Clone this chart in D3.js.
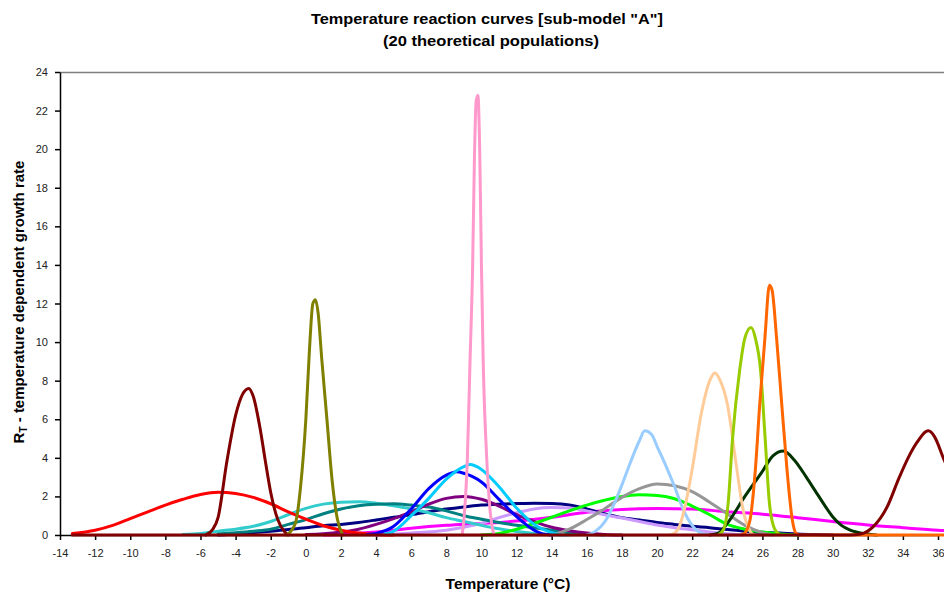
<!DOCTYPE html>
<html><head><meta charset="utf-8">
<script src="https://cdn.jsdelivr.net/npm/d3@7"></script>
<style>body{margin:0;background:#fff}svg{display:block;font-family:"Liberation Sans",Arial,sans-serif}</style>
</head><body><svg id="c" width="944" height="592"></svg>
<script>
const titleLines = ['Temperature reaction curves [sub-model "A"]', '(20 theoretical populations)'];
const xTickValues = d3.range(-14, 37, 2);
const yTickValues = d3.range(0, 25, 2);

const redPts = [[-13.3,0.08],[-12,0.25],[-11,0.5],[-10,0.85],[-9,1.2],[-8,1.55],[-7,1.85],[-6,2.1],[-5,2.22],[-4,2.15],[-3,1.95],[-2,1.62],[-1,1.2],[0,0.82],[1,0.48],[2,0.25],[3,0.1],[4,0.03],[5,0]];
const maroonAPts = [[-5.7,0],[-5.3,0.3],[-5,0.9],[-4.5,3.8],[-4,6.2],[-3.6,7.3],[-3.25,7.6],[-3,7.2],[-2.6,5.5],[-2.3,3.8],[-2,2.2],[-1.6,0.8],[-1.2,0.15],[-1,0]];
const olivePts = [[-1.1,0],[-0.6,0.6],[-0.3,2.5],[0,6],[0.2,9.5],[0.4,12],[0.55,12.2],[0.7,11.5],[0.9,9.2],[1.2,6],[1.5,2.8],[1.8,0.8],[2.1,0]];
const turquoisePts = [[-7,0.02],[-6,0.08],[-5,0.2],[-4,0.3],[-3,0.45],[-2,0.7],[-1,1.05],[0,1.38],[1,1.6],[2,1.7],[3,1.72],[4,1.65],[5,1.52],[6,1.35],[7,1.15],[8,0.9],[9,0.7],[10,0.5],[11,0.32],[12,0.18],[13,0.08],[14,0.03],[15,0]];
const tealPts = [[-5,0.05],[-4,0.12],[-3,0.2],[-2,0.3],[-1,0.55],[0,0.8],[1,1.1],[2,1.35],[3,1.52],[4,1.6],[5,1.62],[6,1.55],[7,1.45],[8,1.25],[9,1.0],[10,0.82],[11,0.65],[12,0.5],[13,0.38],[14,0.25],[15,0.12],[16,0.05],[17,0]];
const purplePts = [[0,0.02],[1,0.06],[2,0.15],[3,0.3],[4,0.55],[5,0.85],[6,1.2],[7,1.6],[8,1.9],[9,2.0],[10,1.85],[11,1.5],[12,1.05],[13,0.7],[14,0.4],[15,0.22],[16,0.1],[17,0.03],[18,0]];
const navyPts = [[-5,0],[-4,0.05],[-3,0.12],[-2,0.2],[-1,0.28],[0,0.38],[1,0.48],[2,0.55],[3,0.65],[4,0.78],[5,0.92],[6,1.05],[7,1.2],[8,1.35],[9,1.45],[10,1.55],[11,1.6],[12,1.63],[13,1.65],[14,1.63],[15,1.55],[16,1.35],[17,1.1],[18,0.9],[19,0.78],[20,0.65],[21,0.55],[22,0.45],[23,0.38],[24,0.28],[25,0.2],[26,0.14],[27,0.1],[28,0.05],[29,0.02],[30,0]];
const bluePts = [[3.5,0.02],[4,0.08],[5,0.45],[6,1.35],[7,2.4],[8,3.1],[8.6,3.28],[9,3.2],[10,2.75],[11,1.85],[12,0.95],[13,0.25],[13.5,0.05],[14,0]];
const skyBluePts = [[4.5,0.05],[5,0.2],[6,1.0],[7,1.9],[8,2.9],[9,3.55],[9.35,3.65],[10,3.4],[11,2.5],[12,1.4],[13,0.55],[14,0.12],[14.5,0]];
const pinkPts = [[8.9,0],[9.0,0.8],[9.2,4],[9.35,9],[9.5,14],[9.6,19.5],[9.7,22.5],[9.8,22.8],[9.9,20],[10.0,14],[10.1,9],[10.3,4],[10.5,1.2],[10.7,0]];
const magentaPts = [[1,0],[2,0.03],[4,0.15],[6,0.35],[8,0.5],[10,0.6],[12,0.72],[14,0.92],[16,1.18],[18,1.32],[20,1.37],[22,1.35],[24,1.2],[26,1.08],[28,0.9],[30,0.7],[32,0.52],[34,0.38],[36,0.25],[38,0.18]];
const lavenderPts = [[4,0],[6,0.1],[8,0.25],[9,0.4],[10,0.6],[11,0.9],[12,1.15],[13,1.35],[14,1.42],[15,1.4],[16,1.25],[17,1.05],[18,0.88],[19,0.7],[20,0.52],[21,0.38],[22,0.27],[23,0.16],[24,0.07],[25,0]];
const greenPts = [[10,0],[11,0.08],[12,0.3],[13,0.6],[14,0.92],[15,1.25],[16,1.55],[17,1.8],[18,2.0],[19,2.08],[20,2.05],[21,1.88],[22,1.5],[23,1.05],[24,0.55],[25,0.3],[26,0.15],[27,0.05],[28,0]];
const grayPts = [[14,0],[15,0.3],[16,0.8],[17,1.35],[18,1.95],[19,2.4],[20,2.65],[21,2.55],[22,2.25],[23,1.7],[24,1.1],[25,0.5],[26,0.12],[26.5,0]];
const lightBluePts = [[16,0],[16.5,0.2],[17,0.65],[17.5,1.5],[18,2.6],[18.5,3.8],[19,4.9],[19.3,5.4],[19.7,5.2],[20,4.6],[20.5,3.6],[21,2.5],[21.5,1.3],[22,0.5],[22.5,0.1],[23,0]];
const tanPts = [[20.8,0],[21.2,0.3],[21.6,1.5],[22,3.4],[22.5,6.2],[23,8.0],[23.3,8.4],[23.6,8.0],[24,6.8],[24.5,3.7],[24.9,1.3],[25.3,0.2],[25.5,0]];
const yellowGreenPts = [[23.5,0],[23.8,0.3],[24.05,1.65],[24.3,5],[24.7,8.5],[25.0,10.2],[25.35,10.75],[25.6,10.2],[25.9,8.5],[26.15,5.1],[26.4,1.65],[26.7,0.3],[27,0]];
const orangePts = [[24.8,0],[25.0,0.1],[25.3,0.8],[25.6,3.4],[25.85,6.8],[26.15,10.3],[26.4,12.95],[26.55,12.7],[26.8,10.3],[27.1,6.8],[27.4,3.4],[27.7,0.8],[27.9,0.1],[28.1,0],[38,0]];
const darkGreenPts = [[23,0],[23.5,0.1],[24,0.6],[25,2.0],[26,3.3],[26.6,4.1],[27.2,4.35],[27.8,3.9],[28.5,3.0],[29,2.3],[29.5,1.6],[30,0.95],[30.5,0.5],[31,0.25],[32,0.05],[32.5,0]];
const maroonBPts = [[-13.3,0],[31,0],[31.6,0.05],[32.3,0.42],[33.1,1.45],[33.8,3.0],[34.3,4.0],[34.8,4.8],[35.45,5.4],[35.8,5.1],[36.3,4.0],[37,2.5],[37.5,1.5],[38,0.8],[39,0.2]];

const series = [
  {name:"magenta", color:"#FF00FF", pts:magentaPts},
  {name:"navy", color:"#000080", pts:navyPts},
  {name:"lavender", color:"#CC99FF", pts:lavenderPts},
  {name:"turquoise", color:"#33CCCC", pts:turquoisePts},
  {name:"teal", color:"#008080", pts:tealPts},
  {name:"purple", color:"#800080", pts:purplePts},
  {name:"red", color:"#FF0000", pts:redPts},
  {name:"green", color:"#00FF00", pts:greenPts},
  {name:"gray", color:"#969696", pts:grayPts},
  {name:"blue", color:"#0000FF", pts:bluePts},
  {name:"skyBlue", color:"#00CCFF", pts:skyBluePts},
  {name:"lightBlue", color:"#99CCFF", pts:lightBluePts},
  {name:"darkGreen", color:"#003300", pts:darkGreenPts},
  {name:"tan", color:"#FFCC99", pts:tanPts},
  {name:"yellowGreen", color:"#99CC00", pts:yellowGreenPts},
  {name:"orange", color:"#FF6600", pts:orangePts},
  {name:"maroonA", color:"#800000", pts:maroonAPts},
  {name:"olive", color:"#808000", pts:olivePts},
  {name:"pink", color:"#FF99CC", pts:pinkPts},
  {name:"maroonB", color:"#800000", pts:maroonBPts}
];

const svg = d3.select("#c");
const W = 944, H = 592;
const m = {left:60, top:72, bottom:535, right:960};
const x = d3.scaleLinear().domain([-14, 36]).range([60, 938]);
const y = d3.scaleLinear().domain([0, 24]).range([535, 72]);

svg.append("rect").attr("width", W).attr("height", H).attr("fill", "#fff");

// title
svg.append("text").attr("x", 487).attr("y", 24).attr("text-anchor", "middle")
  .attr("font-size", 15.5).attr("font-weight", "bold")
  .attr("textLength", 352).attr("lengthAdjust", "spacingAndGlyphs").text(titleLines[0]);
svg.append("text").attr("x", 491).attr("y", 46).attr("text-anchor", "middle")
  .attr("font-size", 15.5).attr("font-weight", "bold")
  .attr("textLength", 216).attr("lengthAdjust", "spacingAndGlyphs").text(titleLines[1]);

// top border
svg.append("line").attr("x1", m.left).attr("x2", m.right).attr("y1", m.top + 0.5).attr("y2", m.top + 0.5)
  .attr("stroke", "#808080").attr("stroke-width", 1.5);

// axes
const fmt = d => String(d);
const xAxis = svg.append("g").attr("transform", `translate(0,${m.bottom})`)
  .call(d3.axisBottom(x).tickValues(xTickValues).tickFormat(fmt).tickSize(5).tickPadding(9).tickSizeOuter(0));
const yAxis = svg.append("g").attr("transform", `translate(${m.left},0)`)
  .call(d3.axisLeft(y).tickValues(yTickValues).tickFormat(fmt).tickSize(5).tickPadding(7).tickSizeOuter(0));
[xAxis, yAxis].forEach(g => {
  g.selectAll("text").attr("font-size", 11).attr("fill", "#222").attr("font-family", '"Liberation Sans",Arial,sans-serif');
  g.selectAll("line,path").attr("stroke", "#000").attr("stroke-width", 1.5);
});

svg.append("defs").append("clipPath").attr("id", "plot")
  .append("rect").attr("x", m.left).attr("y", m.top).attr("width", m.right - m.left).attr("height", m.bottom - m.top + 3);

const line = d3.line().x(d => x(d[0])).y(d => y(d[1])).curve(d3.curveMonotoneX);
const g = svg.append("g").attr("clip-path", "url(#plot)");
g.selectAll("path").data(series).join("path")
  .attr("d", d => line(d.pts))
  .attr("fill", "none").attr("stroke", d => d.color).attr("stroke-width", 3)
  .attr("stroke-linejoin", "round").attr("stroke-linecap", "round");

// axis labels
svg.append("text").attr("x", 508).attr("y", 589).attr("text-anchor", "middle")
  .attr("font-size", 15.5).attr("font-weight", "bold").text("Temperature (°C)");
const yl = svg.append("text").attr("transform", "translate(24,302) rotate(-90)").attr("text-anchor", "middle")
  .attr("font-size", 15).attr("font-weight", "bold");
yl.append("tspan").text("R");
yl.append("tspan").attr("font-size", 10).attr("dy", 3).text("T");
yl.append("tspan").attr("dy", -3).text(" - temperature dependent growth rate");
</script></body></html>
